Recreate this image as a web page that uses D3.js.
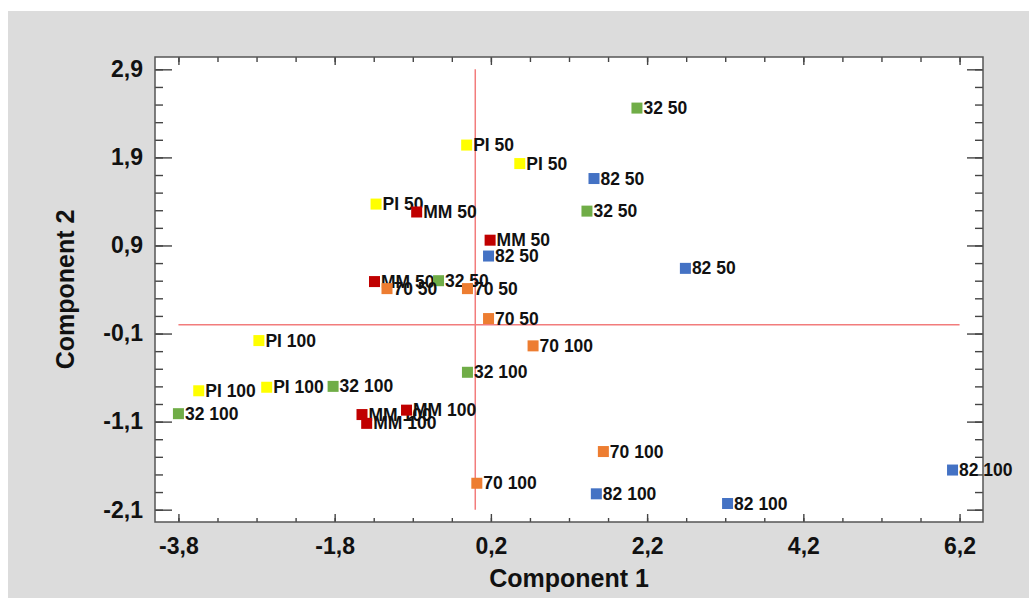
<!DOCTYPE html>
<html>
<head>
<meta charset="utf-8">
<script src="https://cdn.jsdelivr.net/npm/d3@7"></script>
<style>
  body { margin: 0; background: #fff; }
  text { font-family: "Liberation Sans", Arial, sans-serif; font-weight: bold; fill: #111; }
</style>
</head>
<body>
<script>
// point names, as printed next to each marker
const pointLabels = [
  "32 50", "PI 50", "PI 50", "82 50", "32 50", "PI 50", "MM 50", "MM 50", "82 50", "82 50",
  "MM 50", "32 50", "70 50", "70 50", "70 50", "70 100", "PI 100", "32 100", "PI 100", "PI 100",
  "32 100", "32 100", "MM 100", "MM 100", "MM 100", "70 100", "70 100", "82 100", "82 100", "82 100"
];
// Component 1 scores
const comp1 = [
  2.07, -0.11, 0.57, 1.52, 1.43, -1.27, -0.75, 0.19, 0.17, 2.69,
  -1.29, -0.47, -1.13, -0.10, 0.17, 0.74, -2.77, -0.10, -3.54, -2.67,
  -1.82, -3.80, -1.45, -1.39, -0.88, 1.64, 0.02, 1.55, 3.23, 6.11
];
// Component 2 scores
const comp2 = [
  2.46, 2.04, 1.83, 1.66, 1.29, 1.37, 1.28, 0.96, 0.78, 0.64,
  0.49, 0.50, 0.41, 0.41, 0.07, -0.24, -0.18, -0.54, -0.75, -0.71,
  -0.70, -1.01, -1.02, -1.12, -0.97, -1.44, -1.80, -1.92, -2.03, -1.65
];
// colour groups (first part of the name)
const groups = ["PI", "MM", "32", "70", "82"];
const groupColors = ["#ffff00", "#c00000", "#70ad47", "#ed7d31", "#4472c4"];

const xTicks = [-3.8, -1.8, 0.2, 2.2, 4.2, 6.2];
const yTicks = [-2.1, -1.1, -0.1, 0.9, 1.9, 2.9];

const data = pointLabels.map((name, i) => ({ name: name, c1: comp1[i], c2: comp2[i], group: name.split(" ")[0] }));

// set the dimensions and margins of the graph
const W = 1029, H = 598;
const margin = { top: 57, right: 46, bottom: 76, left: 155 },
    width = W - margin.left - margin.right,
    height = H - margin.top - margin.bottom;

const color = d3.scaleOrdinal().domain(groups).range(groupColors);

// comma decimal, plain hyphen
const fmt = d3.formatLocale({ decimal: ",", thousands: ".", grouping: [3], currency: ["", ""], minus: "-" }).format(".1f");

const root = d3.select("body").append("svg")
    .attr("width", W)
    .attr("height", H);

// grey panel
root.append("rect")
    .attr("x", 8).attr("y", 11)
    .attr("width", W - 8).attr("height", H - 11)
    .attr("fill", "#dcdcdc");

const svg = root.append("g")
    .attr("transform", "translate(" + margin.left + "," + margin.top + ")");

svg.append("rect")
    .attr("width", width).attr("height", height)
    .attr("fill", "#fff");

const x = d3.scaleLinear().domain([-4.1, 6.5]).range([0, width]);
const y = d3.scaleLinear().domain([-2.24, 3.04]).range([height, 0]);

const minorX = d3.range(-3.8, 6.25, 0.5);
const minorY = d3.range(-2.1, 2.95, 0.2);

function styleAxis(g) {
    g.select(".domain").remove();
    g.selectAll(".tick line").attr("stroke", "#444").attr("stroke-width", 1.4);
}

// minor ticks on all four sides
svg.append("g").attr("transform", "translate(0," + height + ")")
    .call(d3.axisBottom(x).tickValues(minorX).tickSize(-4).tickFormat("")).call(styleAxis);
svg.append("g")
    .call(d3.axisTop(x).tickValues(minorX).tickSize(-5).tickFormat("")).call(styleAxis);
svg.append("g")
    .call(d3.axisLeft(y).tickValues(minorY).tickSize(-8).tickFormat("")).call(styleAxis);
svg.append("g").attr("transform", "translate(" + width + ",0)")
    .call(d3.axisRight(y).tickValues(minorY).tickSize(-8).tickFormat("")).call(styleAxis);

// major ticks + labels
svg.append("g").attr("id", "x-axis").attr("transform", "translate(0," + height + ")")
    .call(d3.axisBottom(x).tickValues(xTicks).tickSize(-8).tickPadding(15.5).tickFormat(fmt))
    .call(styleAxis)
    .selectAll("text").style("font-size", "23px").attr("fill", "#111");
svg.append("g")
    .call(d3.axisTop(x).tickValues(xTicks).tickSize(-8).tickFormat("")).call(styleAxis);
svg.append("g").attr("id", "y-axis")
    .call(d3.axisLeft(y).tickValues(yTicks).tickSize(-17).tickPadding(12).tickFormat(fmt))
    .call(styleAxis)
    .selectAll("text").style("font-size", "23px").attr("fill", "#111");
svg.append("g").attr("transform", "translate(" + width + ",0)")
    .call(d3.axisRight(y).tickValues(yTicks).tickSize(-16).tickFormat("")).call(styleAxis);

// frame
svg.append("rect")
    .attr("width", width).attr("height", height)
    .attr("fill", "none").attr("stroke", "#555").attr("stroke-width", 1.5);

// reference lines at zero
svg.append("line")
    .attr("x1", x(0)).attr("x2", x(0))
    .attr("y1", y(2.9)).attr("y2", y(-2.1))
    .attr("stroke", "#f27c7c").attr("stroke-width", 1.5);
svg.append("line")
    .attr("x1", x(-3.8)).attr("x2", x(6.2))
    .attr("y1", y(0)).attr("y2", y(0))
    .attr("stroke", "#f27c7c").attr("stroke-width", 1.5);

// points with their names
const pts = svg.selectAll(".pt")
    .data(data)
    .enter()
    .append("g")
    .attr("class", "pt");

pts.append("rect")
    .attr("x", d => x(d.c1) - 5.5)
    .attr("y", d => y(d.c2) - 5.5)
    .attr("width", 11)
    .attr("height", 11)
    .attr("fill", d => color(d.group));

pts.append("text")
    .attr("x", d => x(d.c1) + 6.5)
    .attr("y", d => y(d.c2) + 6)
    .style("font-size", "17.5px")
    .text(d => d.name);

// axis titles
svg.append("text")
    .attr("x", width / 2)
    .attr("y", height + 65)
    .attr("text-anchor", "middle")
    .style("font-size", "25px")
    .text("Component 1");

svg.append("text")
    .attr("transform", "rotate(-90)")
    .attr("x", -height / 2)
    .attr("y", 74 - margin.left)
    .attr("text-anchor", "middle")
    .style("font-size", "25px")
    .text("Component 2");
</script>
</body>
</html>
